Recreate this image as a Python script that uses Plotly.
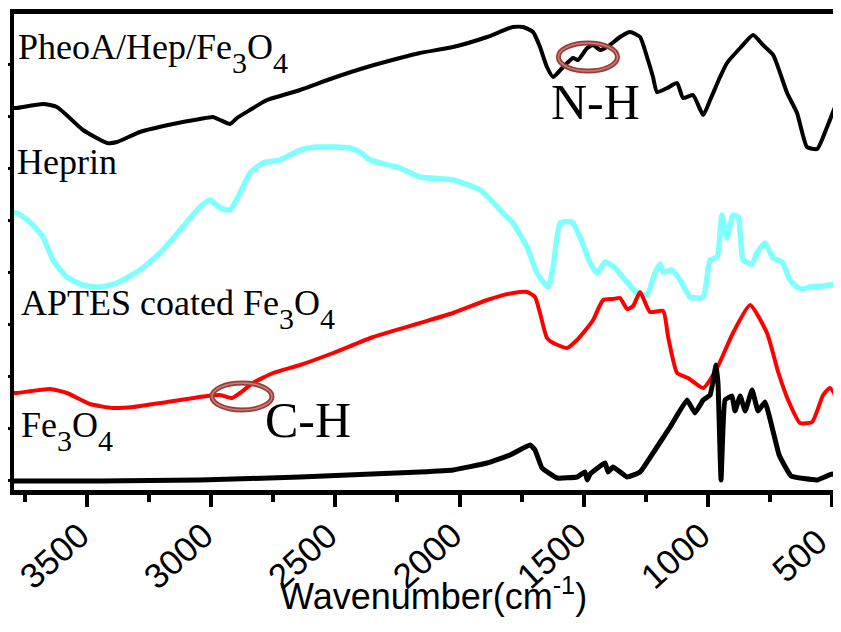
import plotly.graph_objects as go

# ---------------- data (wavenumber in cm-1, transmittance in a.u., stacked) ----------------
pheo_wn = [3794, 3782, 3677, 3621, 3516, 3419, 3379, 3287, 3154, 3045, 2993, 2964, 2924, 2896,
           2844, 2775, 2642, 2509, 2372, 2240, 2159, 2026, 1889, 1785, 1744, 1704, 1676, 1648,
           1623, 1583, 1543, 1523, 1486, 1462, 1434, 1394, 1354, 1313, 1273, 1245, 1221, 1205,
           1164, 1124, 1100, 1060, 1019, 991, 951, 923, 870, 818, 778, 737, 681, 641, 601,
           560, 520, 480, 464]
pheo_t = [382, 382, 386, 383, 360, 347, 348, 358, 366, 371, 373, 370, 366, 372,
          380, 390, 400, 412, 423, 432, 437, 443, 453, 463, 463, 458, 443, 423,
          413, 423, 432, 430, 442, 445, 440, 445, 453, 458, 453, 433, 413, 398,
          402, 407, 392, 395, 375, 390, 413, 427, 442, 455, 445, 435, 397, 377, 343,
          341, 363, 387, 390]

hep_wn = [3794, 3782, 3730, 3677, 3637, 3581, 3516, 3448, 3379, 3287, 3206, 3125, 3045, 3005,
          2964, 2924, 2884, 2844, 2791, 2723, 2642, 2574, 2441, 2401, 2360, 2240, 2159, 2026,
          1917, 1825, 1785, 1744, 1728, 1688, 1644, 1623, 1595, 1547, 1515, 1474, 1446, 1414,
          1374, 1333, 1285, 1245, 1213, 1192, 1180, 1144, 1112, 1072, 1019, 991, 963, 943,
          923, 899, 878, 858, 822, 802, 770, 737, 701, 669, 641, 617, 589, 536, 480, 464]
hep_t = [277, 277, 268, 253, 230, 213, 205, 203, 207, 220, 237, 260, 283, 290,
         282, 280, 297, 317, 327, 330, 340, 343, 342, 338, 330, 322, 313, 310,
         300, 277, 267, 250, 243, 217, 203, 223, 267, 268, 253, 227, 217, 228,
         222, 210, 197, 195, 217, 226, 218, 220, 210, 193, 193, 230, 233, 275,
         252, 275, 273, 230, 226, 237, 247, 232, 228, 210, 203, 201, 203, 204, 206, 206]

aptes_wn = [3794, 3782, 3649, 3581, 3488, 3395, 3315, 3178, 3017, 2964, 2916, 2884, 2832, 2751,
            2642, 2509, 2348, 2159, 2026, 1889, 1785, 1728, 1696, 1676, 1648, 1623, 1567, 1527,
            1486, 1462, 1422, 1382, 1354, 1325, 1301, 1273, 1233, 1180, 1160, 1124, 1080, 1019,
            963, 899, 830, 762, 717, 677, 629, 580, 536, 508, 464]
aptes_t = [97, 97, 101, 97, 86, 82, 83, 88, 94, 95, 92, 97, 107, 117,
           125, 137, 153, 167, 177, 190, 197, 198, 193, 177, 152, 147, 142, 150,
           162, 170, 190, 191, 192, 181, 184, 198, 178, 179, 153, 117, 112, 102,
           122, 157, 185, 157, 118, 90, 67, 68, 95, 102, 83]

fe_wn = [3794, 3448, 3045, 2642, 2159, 2026, 1889, 1797, 1716, 1696, 1668, 1607, 1527, 1495,
         1486, 1474, 1414, 1402, 1382, 1325, 1273, 1213, 1152, 1084, 1052, 1019, 991, 967,
         959, 947, 931, 903, 891, 870, 850, 822, 798, 770, 713, 665, 560, 500, 464]
fe_t = [9, 9, 10, 13, 18, 20, 27, 35, 45, 40, 22, 12, 13, 18,
        10, 16, 27, 18, 23, 13, 18, 40, 63, 90, 77, 90, 95, 125,
        105, 10, 90, 94, 79, 94, 79, 100, 79, 88, 35, 14, 10, 16, 12]

labels = ["PheoA/Hep/Fe", "Heprin", "APTES coated Fe", "Fe"]
x_tickvals = [3500, 3000, 2500, 2000, 1500, 1000, 500]
x_ticktext = ["3500", "3000", "2500", "2000", "1500", "1000", "500"]

# ---------------- figure ----------------
fig = go.Figure()
fig.add_trace(go.Scatter(x=hep_wn, y=hep_t, mode="lines",
                         line=dict(color="#80ffff", width=5.5, shape="spline", smoothing=0.5),
                         name="Heprin"))
fig.add_trace(go.Scatter(x=aptes_wn, y=aptes_t, mode="lines",
                         line=dict(color="#ff0000", width=4, shape="spline", smoothing=0.5),
                         name="APTES coated Fe3O4"))
fig.add_trace(go.Scatter(x=fe_wn, y=fe_t, mode="lines",
                         line=dict(color="#000000", width=5, shape="spline", smoothing=0.3),
                         name="Fe3O4"))
fig.add_trace(go.Scatter(x=pheo_wn, y=pheo_t, mode="lines",
                         line=dict(color="#000000", width=4, shape="spline", smoothing=0.5),
                         name="PheoA/Hep/Fe3O4"))

SERIF = "Liberation Serif, Times New Roman, serif"
SANS = "Liberation Sans, Arial, sans-serif"


def sub(ch):
    return '<span style="font-size:30px;baseline-shift:-14px">' + ch + '</span>'


ann = [
    (labels[0] + sub("3") + "O" + sub("4"), 3785, 465),
    (labels[1], 3790, 350),
    (labels[2] + sub("3") + "O" + sub("4"), 3772, 209),
    (labels[3] + sub("3") + "O" + sub("4"), 3772, 87),
]
for txt, xx, yy in ann:
    fig.add_annotation(x=xx, y=yy, xref="x", yref="y", text=txt, showarrow=False,
                       xanchor="left", yanchor="top",
                       font=dict(family=SERIF, size=36, color="black"))

fig.add_annotation(x=1640, y=418, xref="x", yref="y", text="N-H", showarrow=False,
                   xanchor="left", yanchor="top", font=dict(family=SERIF, size=50, color="black"))
fig.add_annotation(x=2790, y=100, xref="x", yref="y", text="C-H", showarrow=False,
                   xanchor="left", yanchor="top", font=dict(family=SERIF, size=50, color="black"))

# rotated x tick labels, placed on the axis scale at each tick value
for tv, tt in zip(x_tickvals, x_ticktext):
    fig.add_annotation(x=tv, y=-0.137, xref="x", yref="paper", text=tt, showarrow=False,
                       xanchor="center", yanchor="middle", textangle=-42,
                       xshift=-33,
                       font=dict(family=SANS, size=35, color="black"))

fig.add_annotation(x=0.507, y=-0.218, xref="paper", yref="paper",
                   text="Wavenumber(cm<sup>-1</sup>)", showarrow=False,
                   xanchor="center", yanchor="middle",
                   font=dict(family=SANS, size=36, color="black"))

# highlight ellipses (double ring look)
for x0, x1, y0, y1 in [(1602, 1364, 419, 447), (2997, 2755, 80, 107)]:
    fig.add_shape(type="circle", xref="x", yref="y", x0=x0, x1=x1, y0=y0, y1=y1,
                  line=dict(color="#9c3b36", width=5))
    fig.add_shape(type="circle", xref="x", yref="y", x0=x0, x1=x1, y0=y0, y1=y1,
                  line=dict(color="#c9807a", width=1.5))

# page body has an 8px default margin: size the figure so it fits the 841x632 window
fig.update_layout(
    width=833, height=624,
    margin=dict(l=6, r=0, t=6, b=142),
    paper_bgcolor="white", plot_bgcolor="white",
    showlegend=False,
    xaxis=dict(range=[3794, 464], showgrid=False, zeroline=False, automargin=False,
               showline=True, linewidth=5, linecolor="black", mirror=True,
               tickmode="array", tickvals=x_tickvals, ticktext=x_ticktext,
               showticklabels=False,
               ticks="outside", ticklen=12, tickwidth=4, tickcolor="black",
               minor=dict(ticks="outside", ticklen=7, tickwidth=4, tickcolor="black",
                          tickmode="linear", tick0=250, dtick=500)),
    yaxis=dict(range=[0, 476], showgrid=False, zeroline=False, automargin=False,
               showline=True, linewidth=4, linecolor="black",
               showticklabels=False, ticks="outside", ticklen=3, tickwidth=3,
               tickcolor="black", tickmode="linear", tick0=10, dtick=52),
)

fig.write_html("out.html")
